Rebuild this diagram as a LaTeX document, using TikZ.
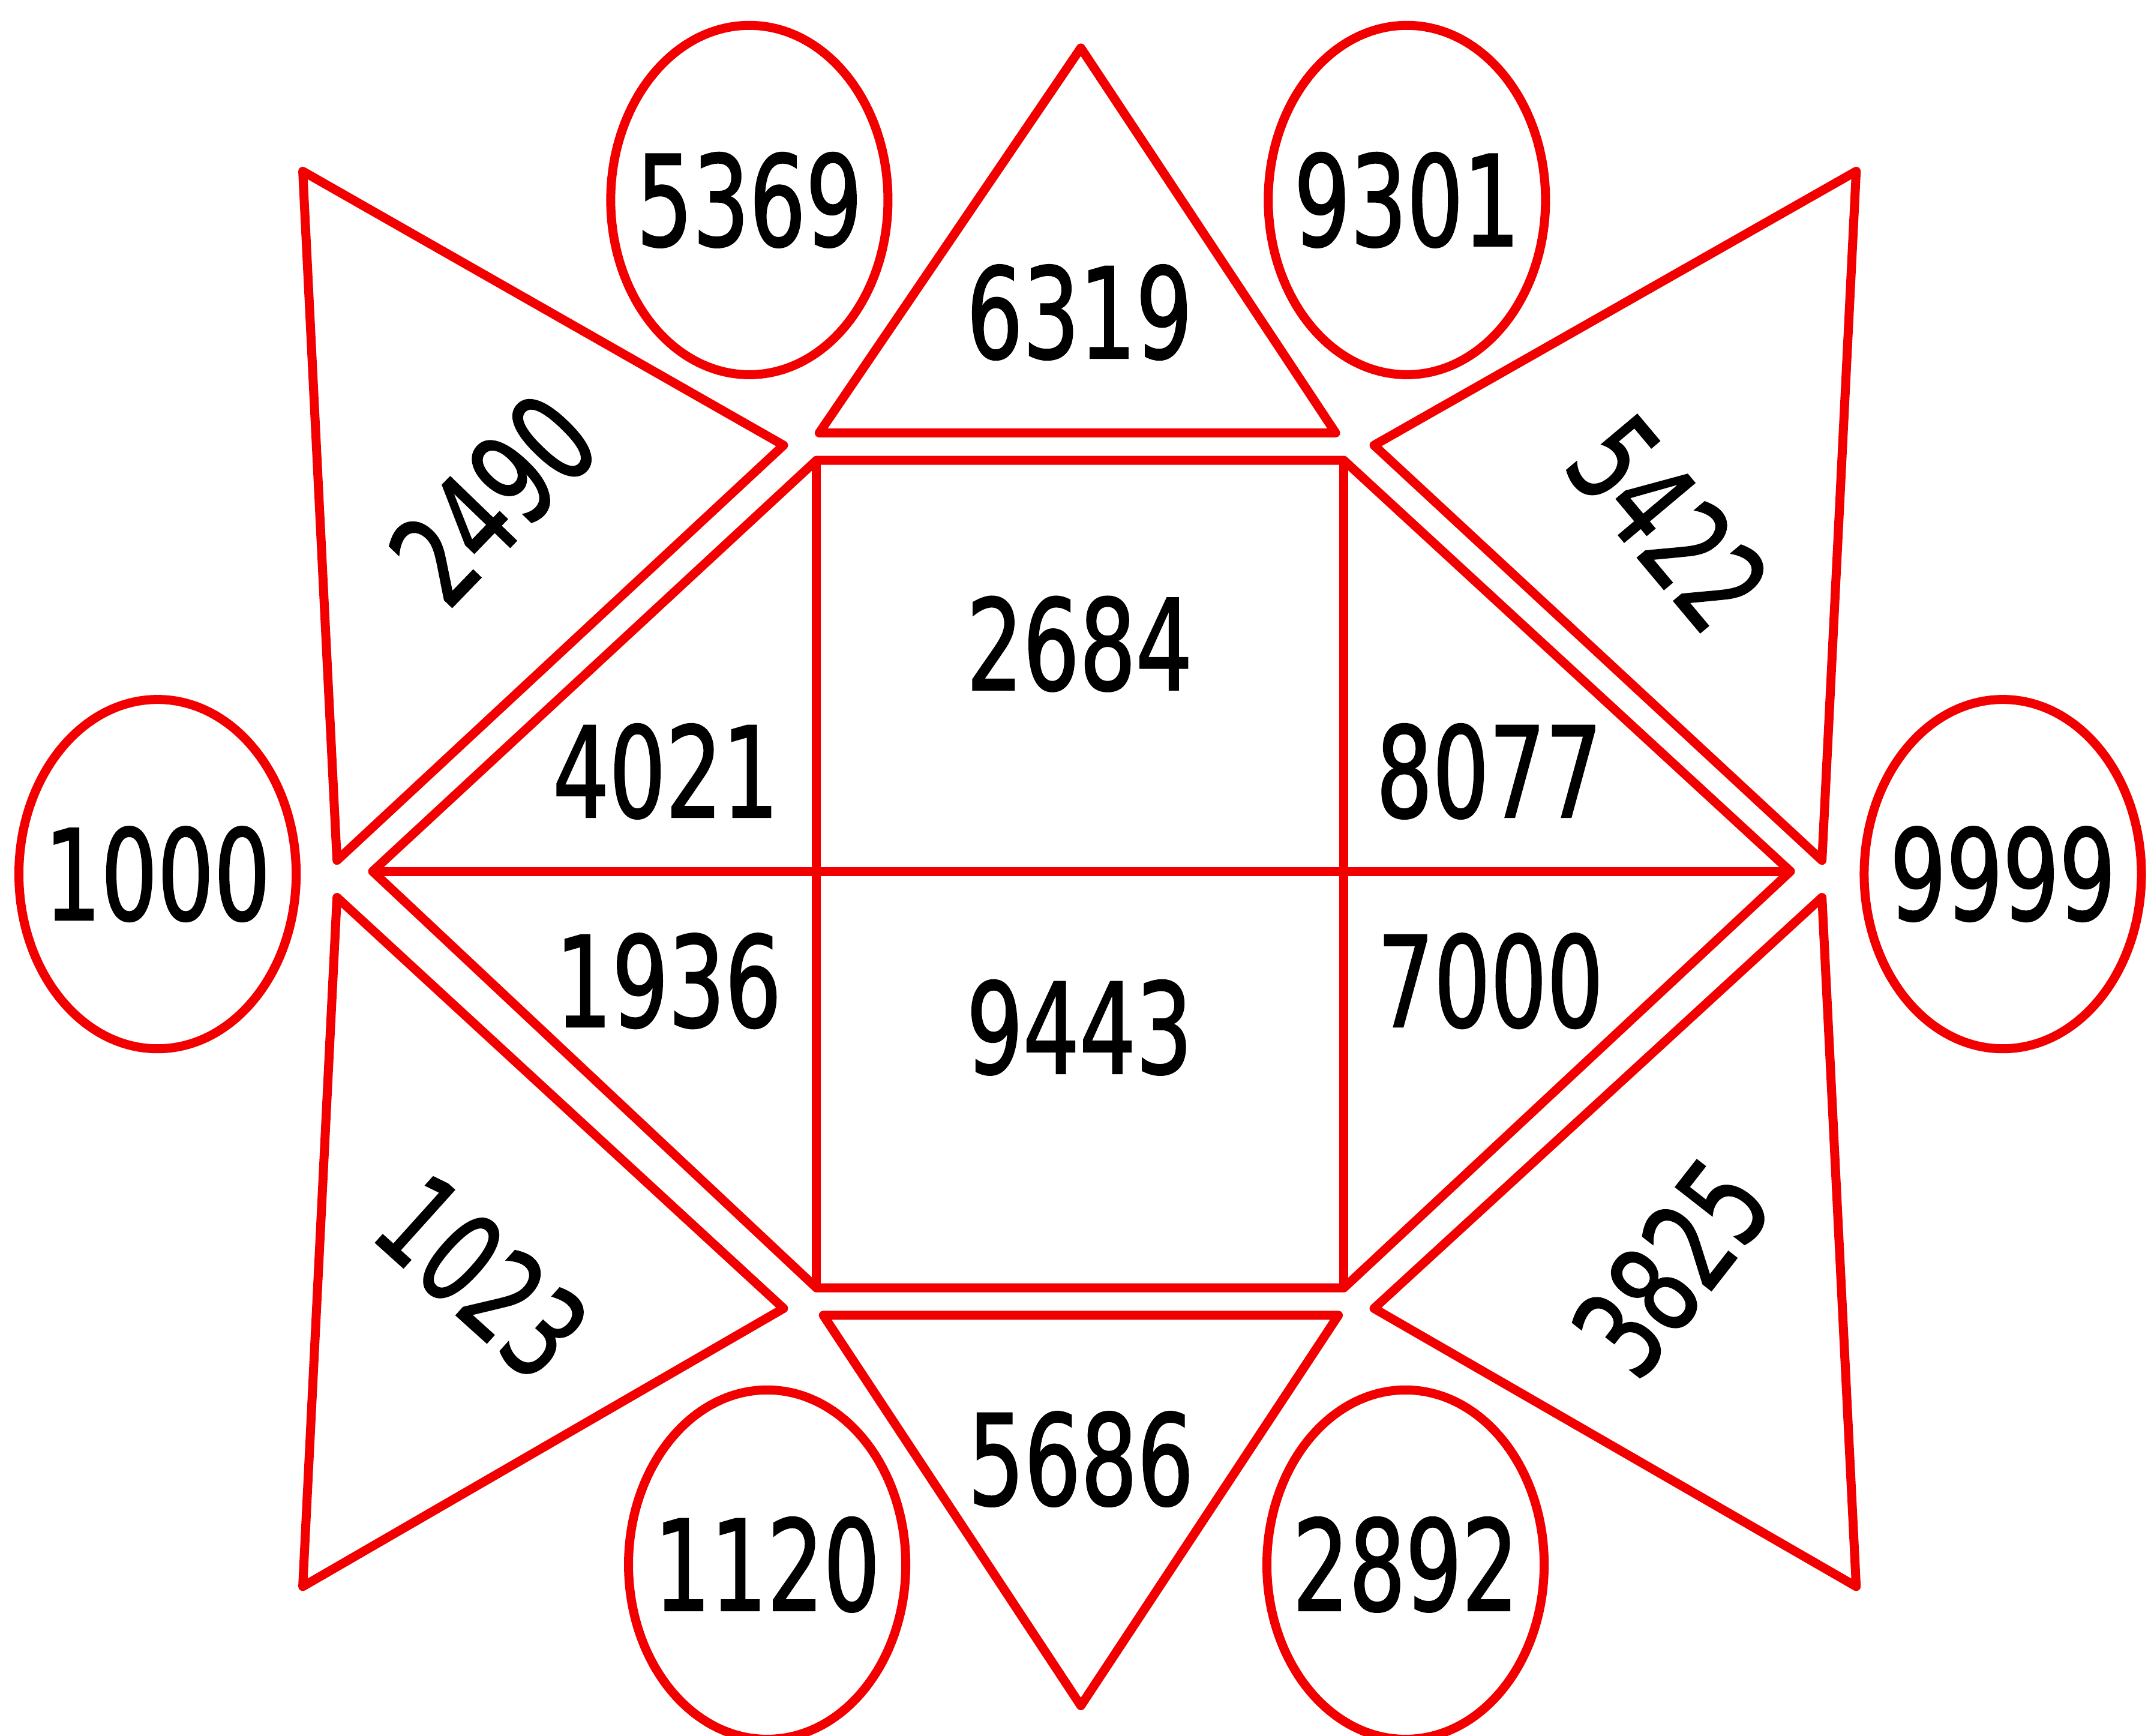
\documentclass[tikz,border=0pt]{standalone}
\usepackage{fontspec}
\usepackage{tikz}
\newfontfamily\numfont[FakeStretch=0.705,FakeBold=1.2]{DejaVu Sans}
\newcommand{\numsize}{\numfont\fontsize{59.7pt}{60pt}\selectfont}
\definecolor{LineRed}{HTML}{F20000}

\begin{document}
\begin{tikzpicture}[
  x=0.022832cm, y=-0.022832cm,
  edge/.style={draw=LineRed, line width=0.15cm, line join=round},
  oval/.style={draw=LineRed, line width=0.15cm},
  num/.style={font=\numsize, inner sep=0pt},
]
\useasboundingbox (0,0) rectangle (1568,1267);

% central hexagon
\coordinate (hl) at (272,636);
\coordinate (hr) at (1307,636);
\coordinate (tl) at (596,336);
\coordinate (tr) at (981,336);
\coordinate (bl) at (596,940);
\coordinate (br) at (981,940);

\draw[edge] (hl) -- (tl) -- (tr) -- (hr) -- (br) -- (bl) -- cycle;
\draw[edge] (hl) -- (hr);
\draw[edge] (tl) -- (bl);
\draw[edge] (tr) -- (br);

% top and bottom triangles
\draw[edge] (789,35) -- (975,316) -- (598,316) -- cycle;
\draw[edge] (789,1245) -- (977,960) -- (601,960) -- cycle;

% side triangles
\draw[edge] (221,125) -- (572,325) -- (246,628) -- cycle;
\draw[edge] (1355,125) -- (1003,325) -- (1330,628) -- cycle;
\draw[edge] (246,655) -- (572,955) -- (221,1158) -- cycle;
\draw[edge] (1330,655) -- (1003,955) -- (1355,1158) -- cycle;

% ovals
\node[num] (o5369) at (547,146) {5369};
\node[num] (o9301) at (1027,146) {9301};
\node[num] (o1000) at (115,638) {1000};
\node[num] (o9999) at (1462,638) {9999};
\node[num] (o1120) at (560,1142) {1120};
\node[num] (o2892) at (1026,1142) {2892};
\foreach \o in {o5369,o9301,o1000,o9999,o1120,o2892}
  \draw[oval] (\o.center) ellipse [x radius=2.31cm, y radius=2.91cm];

% numbers in the shapes
\node[num] (n6319) at (788,228) {6319};
\node[num] (n2684) at (788,470) {2684};
\node[num] (n9443) at (788,750) {9443};
\node[num] (n4021) at (486,563) {4021};
\node[num] (n8077) at (1087,563) {8077};
\node[num] (n1936) at (488,716) {1936};
\node[num] (n7000) at (1088,716) {7000};
\node[num] (n5686) at (789,1065) {5686};
\node[num, rotate=46] (n2490) at (360,364) {2490};
\node[num, rotate=-50] (n5422) at (1218,382) {5422};
\node[num, rotate=-42] (n1023) at (352,932) {1023};
\node[num, rotate=52] (n3825) at (1220,925) {3825};

\end{tikzpicture}
\end{document}
